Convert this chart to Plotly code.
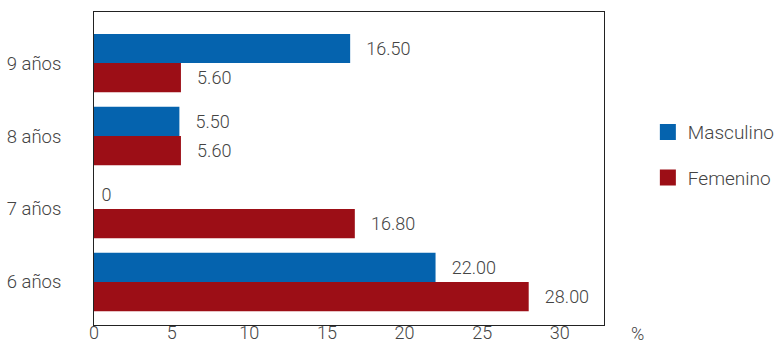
import plotly.graph_objects as go

# Age groups, bottom to top
categorias = ["6 años", "7 años", "8 años", "9 años"]
masculino = [22.00, 0, 5.50, 16.50]
femenino = [28.00, 16.80, 5.60, 5.60]
x_ticks = [0, 5, 10, 15, 20, 25, 30]

AZUL = "#0563ae"
ROJO = "#9c0e16"
GRIS = "#444444"
FUENTE = "Roboto"
NBSP = "\u00a0"


def etiqueta(v):
    # small gap between the bar end and its value
    return NBSP * 3 + f"{v:.2f}" if v else NBSP + "0"


fig = go.Figure()

# Femenino first so it sits below Masculino inside each group
fig.add_trace(go.Bar(
    y=categorias, x=femenino, orientation="h", name="Femenino",
    marker=dict(color=ROJO, line=dict(width=0)),
    text=[etiqueta(v) for v in femenino], textposition="outside",
    textfont=dict(color=GRIS, size=18, family=FUENTE, weight=300),
    cliponaxis=False, showlegend=False,
))
fig.add_trace(go.Bar(
    y=categorias, x=masculino, orientation="h", name="Masculino",
    marker=dict(color=AZUL, line=dict(width=0)),
    text=[etiqueta(v) for v in masculino], textposition="outside",
    textfont=dict(color=GRIS, size=18, family=FUENTE, weight=300),
    cliponaxis=False, showlegend=False,
))

# Legend entries with square swatches
for nombre, color, grupo in [("Masculino", AZUL, "a"), ("Femenino", ROJO, "b")]:
    fig.add_trace(go.Scatter(
        x=[None], y=[None], mode="markers", name=nombre, legendgroup=grupo,
        marker=dict(symbol="square", size=20, color=color),
    ))

fig.update_layout(
    width=774, height=344,
    margin=dict(l=94, r=170, t=12, b=19, autoexpand=False),
    paper_bgcolor="white", plot_bgcolor="white",
    barmode="group", bargap=0.2, bargroupgap=0,
    font=dict(family=FUENTE, size=18, color=GRIS, weight=300),
    legend=dict(
        x=1.086, y=0.543, xanchor="left", yanchor="middle",
        font=dict(size=19, color=GRIS, family=FUENTE, weight=300),
        tracegroupgap=18, itemwidth=30,
    ),
    annotations=[dict(
        text="%", x=1.05, xref="paper", xanchor="left",
        y=0, yref="paper", yanchor="middle", yshift=-8, borderpad=0,
        showarrow=False, font=dict(size=18, color=GRIS, family=FUENTE, weight=300),
    )],
)

fig.update_xaxes(
    range=[0, 32.85], tickvals=x_ticks, showgrid=False, zeroline=False,
    showline=True, linecolor="#222222", linewidth=1, mirror=True,
    ticks="", automargin=False, ticklabelstandoff=-9,
    tickfont=dict(size=18, color=GRIS),
)
fig.update_yaxes(
    range=[-0.59, 3.70], showgrid=False, zeroline=False,
    showline=True, linecolor="#222222", linewidth=1, mirror=True,
    ticks="", automargin=False, ticklabelstandoff=28,
    tickfont=dict(size=18.5, color=GRIS),
)

fig.write_html("out.html")
